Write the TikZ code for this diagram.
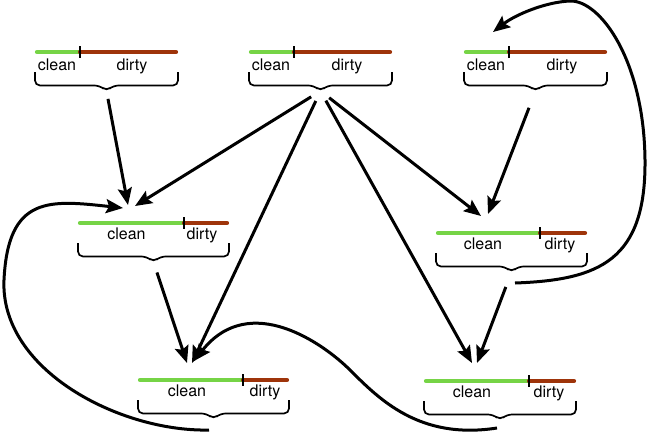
\documentclass[tikz,border=0pt]{standalone}
\usepackage{fontspec}
\setmainfont{TeX Gyre Heros}
\usetikzlibrary{arrows.meta}
\definecolor{cleangreen}{RGB}{118,212,70}
\definecolor{dirtybrown}{RGB}{158,52,10}
\tikzset{
  greenbar/.style={draw=cleangreen,line width=4.2pt,line cap=round},
  brownbar/.style={draw=dirtybrown,line width=4.2pt,line cap=round},
  tickline/.style={draw=black,line width=1.4pt},
  lbl/.style={font=\fontsize{16}{18}\selectfont,inner sep=0pt,anchor=base},
  bracel/.style={draw=black,line width=1.7pt,rounded corners=5pt},
  arr/.style={draw=black,line width=3pt,-{Stealth[length=17pt,width=14pt,inset=3pt]}},
}
% #1 name, #2 x-left, #3 y of bar, #4 green length, #5 total length,
% #6 clean x (rel), #7 dirty x (rel), #8 text baseline (rel)
\newcommand\cdpair[8]{%
  \begin{scope}[shift={(#2,#3)}]
    \draw[greenbar] (0,0) -- (#4,0);
    \draw[brownbar] (#4,0) -- (#5,0);
    \draw[tickline] (#4,-6) -- (#4,6);
    \node[lbl] (#1clean) at (#6,#8) {clean};
    \node[lbl] (#1dirty) at (#7,#8) {dirty};
    \pgfmathsetmacro\cdmid{#5/2}
    \draw[bracel] (-2,20) -- (-2,33.5) -- ({\cdmid-7},33.5) -- (\cdmid,39) -- ({\cdmid+7},33.5) -- ({#5+2},33.5) -- ({#5+2},20);
    \coordinate (#1) at (\cdmid,39);
  \end{scope}}
\begin{document}
\begin{tikzpicture}[x=1pt,y=-1pt]
  \useasboundingbox (0,0) rectangle (650,437);
  \cdpair{A}{37}{52}{43}{139}{20}{95}{18.5}
  \cdpair{B}{251}{52}{43}{139}{20}{96}{18.5}
  \cdpair{C}{466}{52}{43}{139}{20}{96}{18.5}
  \cdpair{D}{80}{223}{104}{147}{46.5}{122}{16.5}
  \cdpair{E}{438}{233}{102}{147}{45}{122}{16.5}
  \cdpair{F}{140}{380}{103}{147}{47}{125}{16.5}
  \cdpair{G}{426}{381}{103}{148}{46}{123}{16.5}
  % arrow ends
  \coordinate (DinA) at (128,205);
  \coordinate (DinB) at (135,206);
  \coordinate (DinF) at (123,208);
  \coordinate (EinB) at (481,216);
  \coordinate (EinC) at (488,214);
  \coordinate (FinD) at (187,363);
  \coordinate (FinB) at (192,363);
  \coordinate (FinG) at (194,361);
  \coordinate (GinB) at (472,363);
  \coordinate (GinE) at (477,363);
  \coordinate (CinE) at (493,32);
  % loop starts
  \coordinate (Floop) at (209,430);
  \coordinate (Gloop) at (497,428);
  \coordinate (Eloop) at (515,283);
  % straight arrows
  \draw[arr,shorten <=8pt] (A) -- (DinA);
  \draw[arr,shorten <=11pt] (B) -- (DinB);
  \draw[arr,shorten <=11pt] (B) -- (FinB);
  \draw[arr,shorten <=11pt] (B) -- (EinB);
  \draw[arr,shorten <=11pt] (B) -- (GinB);
  \draw[arr,shorten <=18pt] (C) -- (EinC);
  \draw[arr,shorten <=11pt] (D) -- (FinD);
  \draw[arr,shorten <=16pt] (E) -- (GinE);
  % curved arrows
  \draw[arr] (Floop) .. controls (120,432) and (0,370) .. (4,280)
                     .. controls (8,195) and (50,200) .. (DinF);
  \draw[arr] (Gloop) .. controls (420,440) and (380,400) .. (350,370)
                     .. controls (325,345) and (250,290) .. (FinG);
  \draw[arr] (Eloop) .. controls (600,280) and (646,260) .. (645,160)
                     .. controls (644,60) and (600,0) .. (570,1)
                     .. controls (545,2) and (515,15) .. (CinE);
\end{tikzpicture}
\end{document}
